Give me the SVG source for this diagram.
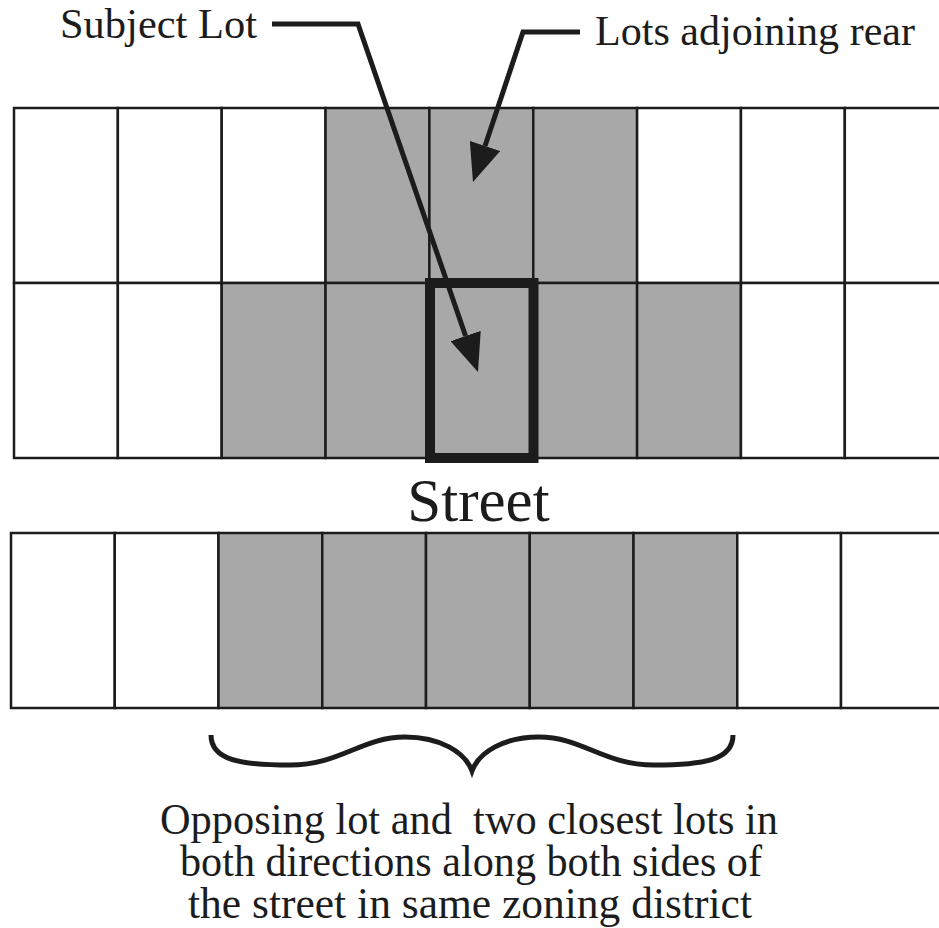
<svg xmlns="http://www.w3.org/2000/svg" width="939" height="928" viewBox="0 0 939 928">
  <style>
    .lot { stroke: #1c1c1c; stroke-width: 2.5; }
    .w { fill: #ffffff; }
    .g { fill: #a8a8a8; }
    .subject { fill: none; stroke: #1c1c1c; stroke-width: 10; }
    .lbl { font-family: "Liberation Serif", "Times New Roman", serif; fill: #1c1c1c; }
    .conn { fill: none; stroke: #1c1c1c; stroke-width: 5; stroke-linejoin: miter; }
    .brace { fill: none; stroke: #1c1c1c; stroke-width: 5; }
  </style>
  <defs>
    <marker id="ah" markerUnits="userSpaceOnUse" viewBox="0 0 38 32" refX="0" refY="16" markerWidth="38" markerHeight="32" orient="auto">
      <path d="M0,0 L38,16 L0,32 z" fill="#1c1c1c"/>
    </marker>
  </defs>
  <rect width="939" height="928" fill="#ffffff"/>

  <!-- rear row (top) -->
  <g id="rear-row">
    <rect id="r1" class="lot w" x="14" y="108" width="103.85" height="175"/>
    <rect id="r2" class="lot w" x="117.85" y="108" width="103.85" height="175"/>
    <rect id="r3" class="lot w" x="221.7" y="108" width="103.85" height="175"/>
    <rect id="r4" class="lot g" x="325.55" y="108" width="103.85" height="175"/>
    <rect id="r5" class="lot g" x="429.4" y="108" width="103.85" height="175"/>
    <rect id="r6" class="lot g" x="533.25" y="108" width="103.85" height="175"/>
    <rect id="r7" class="lot w" x="637.1" y="108" width="103.85" height="175"/>
    <rect id="r8" class="lot w" x="740.95" y="108" width="103.85" height="175"/>
    <rect id="r9" class="lot w" x="844.8" y="108" width="103.85" height="175"/>
  </g>

  <!-- subject row -->
  <g id="subject-row">
    <rect id="s1" class="lot w" x="14" y="283" width="103.85" height="175"/>
    <rect id="s2" class="lot w" x="117.85" y="283" width="103.85" height="175"/>
    <rect id="s3" class="lot g" x="221.7" y="283" width="103.85" height="175"/>
    <rect id="s4" class="lot g" x="325.55" y="283" width="103.85" height="175"/>
    <rect id="s5" class="lot g" x="429.4" y="283" width="103.85" height="175"/>
    <rect id="s6" class="lot g" x="533.25" y="283" width="103.85" height="175"/>
    <rect id="s7" class="lot g" x="637.1" y="283" width="103.85" height="175"/>
    <rect id="s8" class="lot w" x="740.95" y="283" width="103.85" height="175"/>
    <rect id="s9" class="lot w" x="844.8" y="283" width="103.85" height="175"/>
  </g>

  <g id="subject-lot">
    <rect class="subject" x="430" y="283" width="103.5" height="175"/>
  </g>

  <!-- opposite side row -->
  <g id="opposite-row">
    <rect id="o1" class="lot w" x="11" y="533" width="103.75" height="175"/>
    <rect id="o2" class="lot w" x="114.75" y="533" width="103.75" height="175"/>
    <rect id="o3" class="lot g" x="218.5" y="533" width="103.75" height="175"/>
    <rect id="o4" class="lot g" x="322.25" y="533" width="103.75" height="175"/>
    <rect id="o5" class="lot g" x="426" y="533" width="103.75" height="175"/>
    <rect id="o6" class="lot g" x="529.75" y="533" width="103.75" height="175"/>
    <rect id="o7" class="lot g" x="633.5" y="533" width="103.75" height="175"/>
    <rect id="o8" class="lot w" x="737.25" y="533" width="103.75" height="175"/>
    <rect id="o9" class="lot w" x="841" y="533" width="103.75" height="175"/>
  </g>

  <g id="label-subject">
    <text class="lbl" x="60" y="38" font-size="42" textLength="197" lengthAdjust="spacingAndGlyphs">Subject Lot</text>
  </g>
  <g id="label-rear">
    <text class="lbl" x="595" y="45" font-size="42" textLength="320" lengthAdjust="spacingAndGlyphs">Lots adjoining rear</text>
  </g>
  <g id="label-street">
    <text class="lbl" x="478.5" y="521" font-size="61" text-anchor="middle">Street</text>
  </g>

  <g id="connectors">
    <path class="conn" d="M272,24 L358,24 L465.6,336" marker-end="url(#ah)"/>
    <path class="conn" d="M580,32 L523,32 L485,146" marker-end="url(#ah)"/>
    <path class="brace" d="M211,735 C211,760 240,765 290,765 C340,765 362,737 405,737 C440,737 465,752 472,771 C479,752 504,737 539,737 C582,737 604,765 654,765 C704,765 733,760 733,735"/>
  </g>

  <g id="label-bottom">
    <text class="lbl" x="469" y="834" font-size="44" text-anchor="middle" textLength="618" lengthAdjust="spacingAndGlyphs" xml:space="preserve">Opposing lot and  two closest lots in</text>
    <text class="lbl" x="471" y="876" font-size="44" text-anchor="middle" textLength="582" lengthAdjust="spacingAndGlyphs">both directions along both sides of</text>
    <text class="lbl" x="470" y="918" font-size="44" text-anchor="middle" textLength="564" lengthAdjust="spacingAndGlyphs">the street in same zoning district</text>
  </g>
</svg>
